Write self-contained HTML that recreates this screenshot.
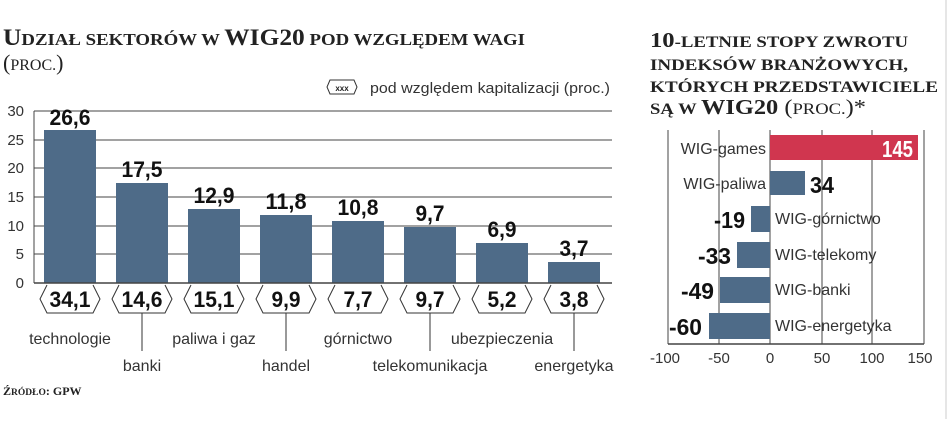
<!DOCTYPE html>
<html><head><meta charset="utf-8"><style>
body{margin:0;background:#fff;width:948px;height:419px;overflow:hidden}
</style></head><body>
<svg width="948" height="419" xmlns="http://www.w3.org/2000/svg" font-family="'Liberation Sans Narrow','Liberation Sans',sans-serif">
<g font-family="'Liberation Serif',serif" font-weight="bold" fill="#222">
<text x="3" y="45" font-size="23" textLength="522" lengthAdjust="spacingAndGlyphs">U<tspan font-size="17">DZIAŁ SEKTORÓW W </tspan>WIG20<tspan font-size="17"> POD WZGLĘDEM WAGI</tspan></text>
<text x="3" y="70" font-size="22" font-weight="normal">(<tspan font-size="16">PROC.</tspan>)</text>
<text x="650" y="47" font-size="21" textLength="258" lengthAdjust="spacingAndGlyphs">10<tspan font-size="16">-LETNIE STOPY ZWROTU</tspan></text>
<text x="650" y="70" font-size="16" textLength="258" lengthAdjust="spacingAndGlyphs">INDEKSÓW BRANŻOWYCH,</text>
<text x="650" y="92" font-size="16" textLength="288" lengthAdjust="spacingAndGlyphs">KTÓRYCH PRZEDSTAWICIELE</text>
<text x="650" y="114" font-size="21" textLength="216" lengthAdjust="spacingAndGlyphs"><tspan font-size="16">SĄ W </tspan>WIG20 <tspan font-weight="normal">(<tspan font-size="16">PROC.</tspan>)*</tspan></text>
<text x="3" y="395" font-size="12">Ź<tspan font-size="9.5">RÓDŁO</tspan>: GPW</text>
</g>
<path d="M330 80 l-3 7 l3 7 h24 l3 -7 l-3 -7z" fill="none" stroke="#333"/>
<text x="342" y="91" font-size="8" text-anchor="middle" font-weight="bold" fill="#222">xxx</text>
<text x="370" y="93" font-size="15" fill="#333" textLength="240" lengthAdjust="spacingAndGlyphs">pod względem kapitalizacji (proc.)</text>
<g stroke="#444" stroke-width="1">
<line x1="34" y1="111" x2="612" y2="111"/><line x1="34" y1="140" x2="612" y2="140"/><line x1="34" y1="168" x2="612" y2="168"/><line x1="34" y1="197" x2="612" y2="197"/><line x1="34" y1="226" x2="612" y2="226"/><line x1="34" y1="254" x2="612" y2="254"/>
<line x1="34" y1="111" x2="34" y2="283"/>
</g>
<g font-size="15" fill="#333" text-anchor="end">
<text x="24" y="116">30</text><text x="24" y="145">25</text><text x="24" y="173">20</text><text x="24" y="202">15</text><text x="24" y="231">10</text><text x="24" y="259">5</text><text x="24" y="288">0</text>
</g>
<g fill="#4e6b88">
<rect x="44" y="130" width="52" height="153"/>
<rect x="116" y="183" width="52" height="100"/>
<rect x="188" y="209" width="52" height="74"/>
<rect x="260" y="215" width="52" height="68"/>
<rect x="332" y="221" width="52" height="62"/>
<rect x="404" y="227" width="52" height="56"/>
<rect x="476" y="243" width="52" height="40"/>
<rect x="548" y="262" width="52" height="21"/>
</g>
<line x1="34" y1="283" x2="612" y2="283" stroke="#444" stroke-width="1.5"/>
<g font-size="22" font-weight="bold" fill="#111" text-anchor="middle" lengthAdjust="spacingAndGlyphs">
<text x="70" y="125" textLength="41" lengthAdjust="spacingAndGlyphs">26,6</text><text x="142" y="177" textLength="41" lengthAdjust="spacingAndGlyphs">17,5</text><text x="214" y="203" textLength="41" lengthAdjust="spacingAndGlyphs">12,9</text><text x="286" y="209" textLength="41" lengthAdjust="spacingAndGlyphs">11,8</text>
<text x="358" y="215" textLength="41" lengthAdjust="spacingAndGlyphs">10,8</text><text x="430" y="221" textLength="29" lengthAdjust="spacingAndGlyphs">9,7</text><text x="502" y="237" textLength="29" lengthAdjust="spacingAndGlyphs">6,9</text><text x="574" y="256" textLength="29" lengthAdjust="spacingAndGlyphs">3,7</text>
</g>
<g fill="none" stroke="#333" stroke-width="1">
<path d="M47 285 l-7 14 l7 14 h46 l7 -14 l-7 -14"/>
<path d="M119 285 l-7 14 l7 14 h46 l7 -14 l-7 -14"/>
<path d="M191 285 l-7 14 l7 14 h46 l7 -14 l-7 -14"/>
<path d="M263 285 l-7 14 l7 14 h46 l7 -14 l-7 -14"/>
<path d="M335 285 l-7 14 l7 14 h46 l7 -14 l-7 -14"/>
<path d="M407 285 l-7 14 l7 14 h46 l7 -14 l-7 -14"/>
<path d="M479 285 l-7 14 l7 14 h46 l7 -14 l-7 -14"/>
<path d="M551 285 l-7 14 l7 14 h46 l7 -14 l-7 -14"/>
<line x1="142" y1="313" x2="142" y2="351"/><line x1="286" y1="313" x2="286" y2="351"/><line x1="430" y1="313" x2="430" y2="351"/><line x1="574" y1="313" x2="574" y2="351"/>
</g>
<g font-size="22" font-weight="bold" fill="#111" text-anchor="middle">
<text x="70" y="307" textLength="41" lengthAdjust="spacingAndGlyphs">34,1</text><text x="142" y="307" textLength="41" lengthAdjust="spacingAndGlyphs">14,6</text><text x="214" y="307" textLength="41" lengthAdjust="spacingAndGlyphs">15,1</text><text x="286" y="307" textLength="29" lengthAdjust="spacingAndGlyphs">9,9</text>
<text x="358" y="307" textLength="29" lengthAdjust="spacingAndGlyphs">7,7</text><text x="430" y="307" textLength="29" lengthAdjust="spacingAndGlyphs">9,7</text><text x="502" y="307" textLength="29" lengthAdjust="spacingAndGlyphs">5,2</text><text x="574" y="307" textLength="29" lengthAdjust="spacingAndGlyphs">3,8</text>
</g>
<g font-size="16" fill="#333" text-anchor="middle">
<text x="70" y="344">technologie</text><text x="214" y="344">paliwa i gaz</text><text x="358" y="344">górnictwo</text><text x="502" y="344">ubezpieczenia</text>
<text x="142" y="371">banki</text><text x="286" y="371">handel</text><text x="430" y="371">telekomunikacja</text><text x="574" y="371">energetyka</text>
</g>
<line x1="946" y1="0" x2="946" y2="419" stroke="#ccc"/>
<g stroke="#444" stroke-width="1">
<line x1="668" y1="130" x2="668" y2="344"/><line x1="719" y1="130" x2="719" y2="344"/><line x1="770" y1="130" x2="770" y2="344"/><line x1="822" y1="130" x2="822" y2="344"/><line x1="872" y1="130" x2="872" y2="344"/><line x1="924" y1="130" x2="924" y2="344"/>
</g>
<rect x="770" y="135" width="148" height="25" fill="#d0364f"/>
<g fill="#4e6b88">
<rect x="770" y="171" width="35" height="24"/>
<rect x="751" y="206" width="19" height="26"/>
<rect x="737" y="242" width="33" height="26"/>
<rect x="720" y="277" width="50" height="26"/>
<rect x="709" y="313" width="61" height="26"/>
</g>
<line x1="668" y1="344" x2="924" y2="344" stroke="#444" stroke-width="1.5"/>
<g font-size="16" fill="#333">
<text x="766" y="154" text-anchor="end">WIG-games</text>
<text x="766" y="189" text-anchor="end">WIG-paliwa</text>
<text x="775" y="224">WIG-górnictwo</text><text x="775" y="260">WIG-telekomy</text><text x="775" y="295">WIG-banki</text><text x="775" y="331">WIG-energetyka</text>
</g>
<g font-size="23" font-weight="bold" fill="#111">
<text x="913" y="157" text-anchor="end" fill="#fff" textLength="31" lengthAdjust="spacingAndGlyphs">145</text>
<text x="810" y="193" textLength="24" lengthAdjust="spacingAndGlyphs">34</text>
<text x="745" y="228" text-anchor="end" textLength="31" lengthAdjust="spacingAndGlyphs">-19</text><text x="731" y="264" text-anchor="end" textLength="33" lengthAdjust="spacingAndGlyphs">-33</text><text x="714" y="299" text-anchor="end" textLength="33" lengthAdjust="spacingAndGlyphs">-49</text><text x="702" y="335" text-anchor="end" textLength="33" lengthAdjust="spacingAndGlyphs">-60</text>
</g>
<g font-size="15" fill="#333" text-anchor="middle">
<text x="665" y="363">-100</text><text x="719" y="363">-50</text><text x="770" y="363">0</text><text x="822" y="363">50</text><text x="872" y="363">100</text><text x="920" y="363">150</text>
</g>
</svg>
</body></html>
